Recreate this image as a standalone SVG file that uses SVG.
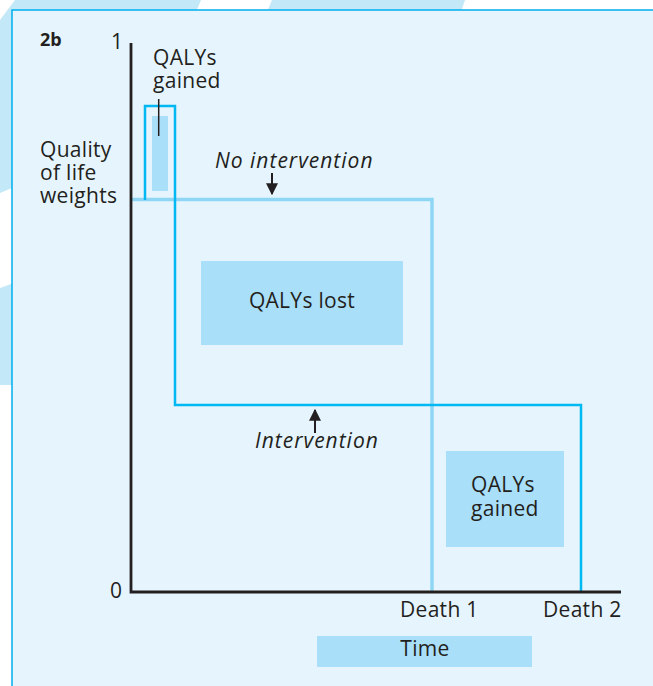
<svg xmlns="http://www.w3.org/2000/svg" width="653" height="686" viewBox="0 0 653 686">
<defs>
<style>
.t{font-family:"Open Sans","Liberation Sans",sans-serif;font-size:21px;letter-spacing:0.3px;fill:#231f20}
.i{font-style:italic;letter-spacing:1px}
.b{font-weight:bold;font-size:18px;letter-spacing:0}
.fill{fill:#aadff9}
.noint{fill:none;stroke:#8fd6f5;stroke-width:3.5}
.int{fill:none;stroke:#00b9f2;stroke-width:2.5}
.axis{fill:none;stroke:#231f20;stroke-width:2.8}
.arr{stroke:#231f20;stroke-width:2}
</style>
<marker id="ah" viewBox="0 0 10 10" refX="9" refY="5" markerWidth="6" markerHeight="6" markerUnits="strokeWidth" orient="auto">
<path d="M0,0 L10,5 L0,10 z" fill="#231f20"/>
</marker>
</defs>
<rect width="653" height="686" fill="#ffffff"/>
<g id="decor">
<polygon points="15,0 201,0 196,12 12,12 12,188 0,193 0,20" fill="#c3e8f8"/>
<polygon points="272,0 465,0 461,12 267,12" fill="#c3e8f8"/>
<polygon points="0,288 14,283 14,385 0,385" fill="#c3e8f8"/>
<rect x="12" y="10" width="700" height="700" fill="#e6f5fd" stroke="#00aeef" stroke-width="1.5"/>
</g>
<g id="fills">
<rect class="fill" x="152" y="116" width="16" height="75"/>
<rect class="fill" x="201" y="261" width="202" height="84"/>
<rect class="fill" x="446" y="451" width="118" height="96"/>
<rect class="fill" x="317" y="636" width="215" height="31"/>
</g>
<g id="connectors">
<path class="noint" d="M131,199.5 H432 V592"/>
<path class="int" d="M145,200 V106 H175 V405 H581 V592"/>
<path class="axis" d="M131,43 V592 H621"/>
<line x1="158.7" y1="99" x2="158.7" y2="136" stroke="#231f20" stroke-width="1.5"/>
<line class="arr" x1="272" y1="173" x2="272" y2="194" marker-end="url(#ah)"/>
<line class="arr" x1="315" y1="433" x2="315" y2="410" marker-end="url(#ah)"/>
</g>
<g id="labels">
<text class="t b" x="40" y="46">2b</text>
<text class="t" x="111" y="49">1</text>
<text class="t" x="110" y="598">0</text>
<text class="t" x="40" y="157">Quality</text>
<text class="t" x="40" y="180">of life</text>
<text class="t" x="40" y="203">weights</text>
<text class="t" x="153" y="65">QALYs</text>
<text class="t" x="153" y="88">gained</text>
<text class="t i" x="215" y="168">No intervention</text>
<text class="t i" x="255" y="448">Intervention</text>
<text class="t" x="302" y="308" text-anchor="middle">QALYs lost</text>
<text class="t" x="471" y="492">QALYs</text>
<text class="t" x="471" y="516">gained</text>
<text class="t" x="400" y="617">Death 1</text>
<text class="t" x="543" y="617">Death 2</text>
<text class="t" x="425" y="656" text-anchor="middle">Time</text>
</g>
</svg>
